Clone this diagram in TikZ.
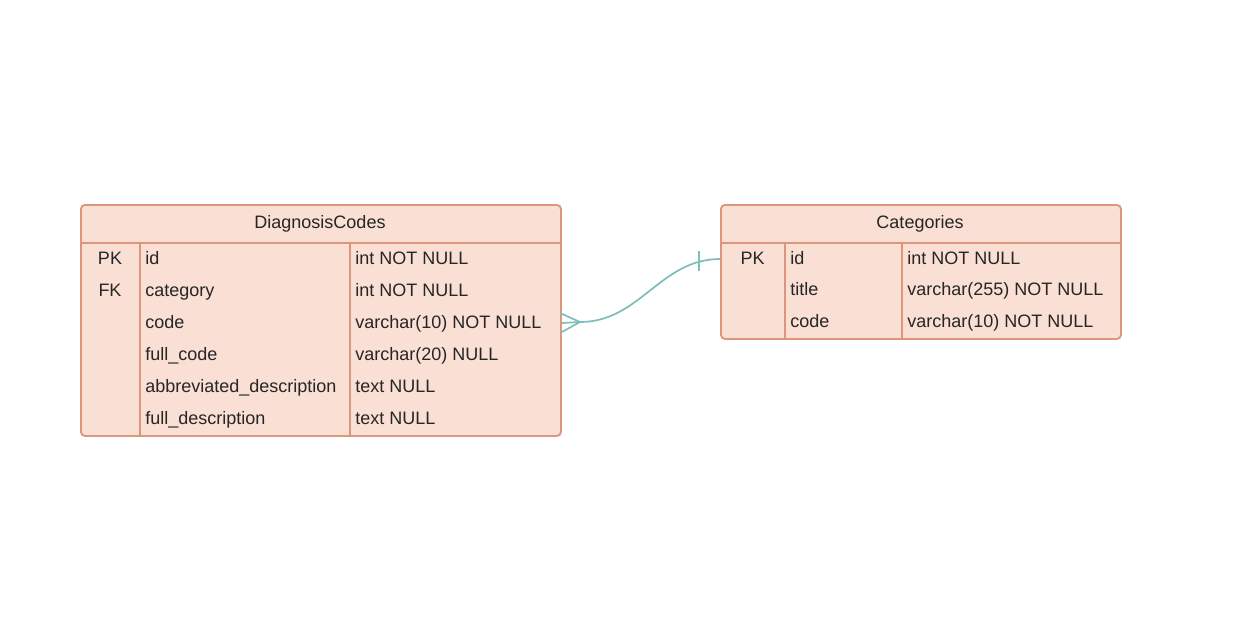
\documentclass[tikz,border=0pt]{standalone}
\usepackage{fontspec}
\setmainfont{Liberation Sans}
\usetikzlibrary{positioning}
\definecolor{erfill}{RGB}{249,223,212}
\definecolor{erline}{RGB}{221,150,124}
\definecolor{erlink}{RGB}{128,190,186}
\tikzset{
    erdiagram/.style={x=0.75pt, y=-0.75pt, font=\fontsize{13.5}{16}\selectfont},
    tablebox/.style={draw=erline, fill=erfill, line width=1.4pt, rounded corners=3pt, inner sep=0pt, anchor=north west},
    rule/.style={draw=erline, line width=1.4pt},
    title/.style={anchor=base, inner sep=0pt, text=black!85},
    keycell/.style={anchor=base, inner sep=0pt, text=black!85},
    cell/.style={anchor=base west, inner sep=0pt, text=black!85},
    link/.style={draw=erlink, line width=1.3pt},
}
\begin{document}
\begin{tikzpicture}[erdiagram]
    \useasboundingbox (0,0) rectangle (1244,637);

    % table boxes
    \node[tablebox, minimum width=360pt, minimum height=173.25pt] (diag) at (80,204) {};
    \node[tablebox, minimum width=300pt, minimum height=100.5pt]  (cats) at (720,204) {};

    % inner rules
    \draw[rule] (80,243) -- (560,243);
    \draw[rule] (140,243) -- (140,435);
    \draw[rule] (350,243) -- (350,435);
    \draw[rule] (720,243) -- (1120,243);
    \draw[rule] (785,243) -- (785,338);
    \draw[rule] (902,243) -- (902,338);

    % DiagnosisCodes
    \node[title]   (dtitle) at (320,228) {DiagnosisCodes};
    \node[keycell] (dpk)    at (110,264) {PK};
    \node[keycell] (dfk)    at (110,296) {FK};
    \node[cell]    (did)    at (145,264) {id};
    \node[cell]    (dcat)   at (145,296) {category};
    \node[cell]    (dcode)  at (145,328) {code};
    \node[cell]    (dfull)  at (145,360) {full\_code};
    \node[cell]    (dabbr)  at (145,392) {abbreviated\_description};
    \node[cell]    (ddesc)  at (145,424) {full\_description};
    \node[cell]    (didt)   at (355,264) {int NOT NULL};
    \node[cell]    (dcatt)  at (355,296) {int NOT NULL};
    \node[cell]    (dcodet) at (355,328) {varchar(10) NOT NULL};
    \node[cell]    (dfullt) at (355,360) {varchar(20) NULL};
    \node[cell]    (dabbrt) at (355,392) {text NULL};
    \node[cell]    (ddesct) at (355,424) {text NULL};

    % Categories
    \node[title]   (ctitle) at (920,228) {Categories};
    \node[keycell] (cpk)    at (752.5,264) {PK};
    \node[cell]    (cid)    at (790,264) {id};
    \node[cell]    (ctit)   at (790,295.5) {title};
    \node[cell]    (ccode)  at (790,327) {code};
    \node[cell]    (cidt)   at (907,264) {int NOT NULL};
    \node[cell]    (ctitt)  at (907,295.5) {varchar(255) NOT NULL};
    \node[cell]    (ccodet) at (907,327) {varchar(10) NOT NULL};

    % relation: many codes -> one category
    \coordinate (one)  at (cats.west |- 0,259);
    \coordinate (many) at (diag.east |- 0,323);
    \coordinate (fork) at (580,322);
    \draw[link] (one) .. controls (660,259) and (640,322) .. (fork) -- (many);
    \draw[link] (fork) -- (560,313);
    \draw[link] (fork) -- (560,333);
    \draw[link] (699,251) -- (699,271);
\end{tikzpicture}
\end{document}
